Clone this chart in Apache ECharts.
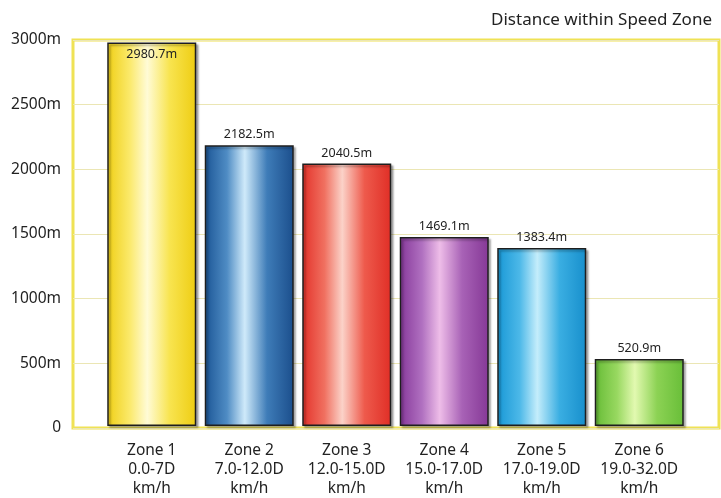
<!DOCTYPE html>
<html>
<head>
<meta charset="utf-8">
<script src="https://cdn.jsdelivr.net/npm/echarts@6/dist/echarts.min.js"></script>
<style>html,body{margin:0;padding:0;background:#fff}#c{width:721px;height:498px}</style>
</head>
<body>
<div id="c"></div>
<script>
// ---- data ----
const zoneNames = ['Zone 1', 'Zone 2', 'Zone 3', 'Zone 4', 'Zone 5', 'Zone 6'];
const zoneRanges = ['0.0-7D', '7.0-12.0D', '12.0-15.0D', '15.0-17.0D', '17.0-19.0D', '19.0-32.0D'];
const zoneUnit = 'km/h';
const distances = [2980.7, 2182.5, 2040.5, 1469.1, 1383.4, 520.9];
const yTicks = [0, 500, 1000, 1500, 2000, 2500, 3000];
const titleText = 'Distance within Speed Zone';

// ---- styles ----
const barGradients = [
  ['#efcf16', '#fbe96a', '#fffbd6', '#f8e450', '#eecd12'],
  ['#1c5696', '#4f8cc4', '#cfeafa', '#3e7cb8', '#1b4e8c'],
  ['#e3322a', '#f07060', '#fbd2c8', '#ee5a4c', '#e02e26'],
  ['#86389a', '#b070c0', '#eebde8', '#a862b6', '#853896'],
  ['#1898d6', '#4cb8e8', '#c4edfb', '#3aaee2', '#178fcc'],
  ['#66bc36', '#98d860', '#e2f9b0', '#8cd254', '#68be38']
];
const categories = zoneNames.map((n, i) => n + '\n' + zoneRanges[i] + '\n' + zoneUnit);

const chart = echarts.init(document.getElementById('c'));
const fontFamily = '"Noto Sans", "Open Sans", sans-serif';

const barData = distances.map((v, i) => {
  const g = barGradients[i];
  const item = {
    value: v,
    itemStyle: {
      color: new echarts.graphic.LinearGradient(0, 0, 1, 0, [
        { offset: 0, color: g[0] },
        { offset: 0.25, color: g[1] },
        { offset: 0.45, color: g[2] },
        { offset: 0.7, color: g[3] },
        { offset: 1, color: g[4] }
      ])
    }
  };
  if (i === 0) item.label = { position: 'insideTop', distance: 5 };
  return item;
});

chart.setOption({
  animation: false,
  backgroundColor: '#ffffff',
  title: {
    text: titleText,
    right: 4,
    top: 7,
    textStyle: { fontFamily, fontSize: 17, fontWeight: 'normal', color: '#222' }
  },
  grid: [
    { left: 73, right: 2, top: 40, bottom: 70, show: true, borderColor: '#efe255', borderWidth: 3, backgroundColor: 'transparent' },
    { left: 103, right: 33, top: 40, bottom: 70 }
  ],
  xAxis: [
    { gridIndex: 0, type: 'value', min: 0, max: 1, show: false },
    {
      gridIndex: 1, type: 'category', data: categories,
      axisLine: { show: false }, axisTick: { show: false },
      axisLabel: { interval: 0, hideOverlap: false, margin: 15, fontFamily, fontSize: 15.5, lineHeight: 19, color: '#222' }
    }
  ],
  yAxis: [
    {
      gridIndex: 0, type: 'value', min: yTicks[0], max: yTicks[yTicks.length - 1], interval: yTicks[1] - yTicks[0],
      axisLine: { show: false }, axisTick: { show: false },
      axisLabel: {
        margin: 12, fontFamily, fontSize: 15.5, color: '#222',
        formatter: v => (v === 0 ? '0' : v + 'm')
      },
      splitLine: { show: true, lineStyle: { color: '#ebe6b4', width: 1 } }
    },
    { gridIndex: 1, type: 'value', min: yTicks[0], max: yTicks[yTicks.length - 1], show: false, splitLine: { show: false } }
  ],
  series: [{
    type: 'bar',
    xAxisIndex: 1,
    yAxisIndex: 1,
    data: barData,
    barWidth: 89,
    itemStyle: {
      borderColor: '#1e1e1e', borderWidth: 1.5,
      shadowColor: 'rgba(0,0,0,0.3)', shadowBlur: 2, shadowOffsetX: 2, shadowOffsetY: 2
    },
    label: {
      show: true, position: 'top', distance: 4,
      fontFamily, fontSize: 12.5, color: '#222',
      formatter: p => p.value.toFixed(1) + 'm'
    }
  }]
});
</script>
</body>
</html>
